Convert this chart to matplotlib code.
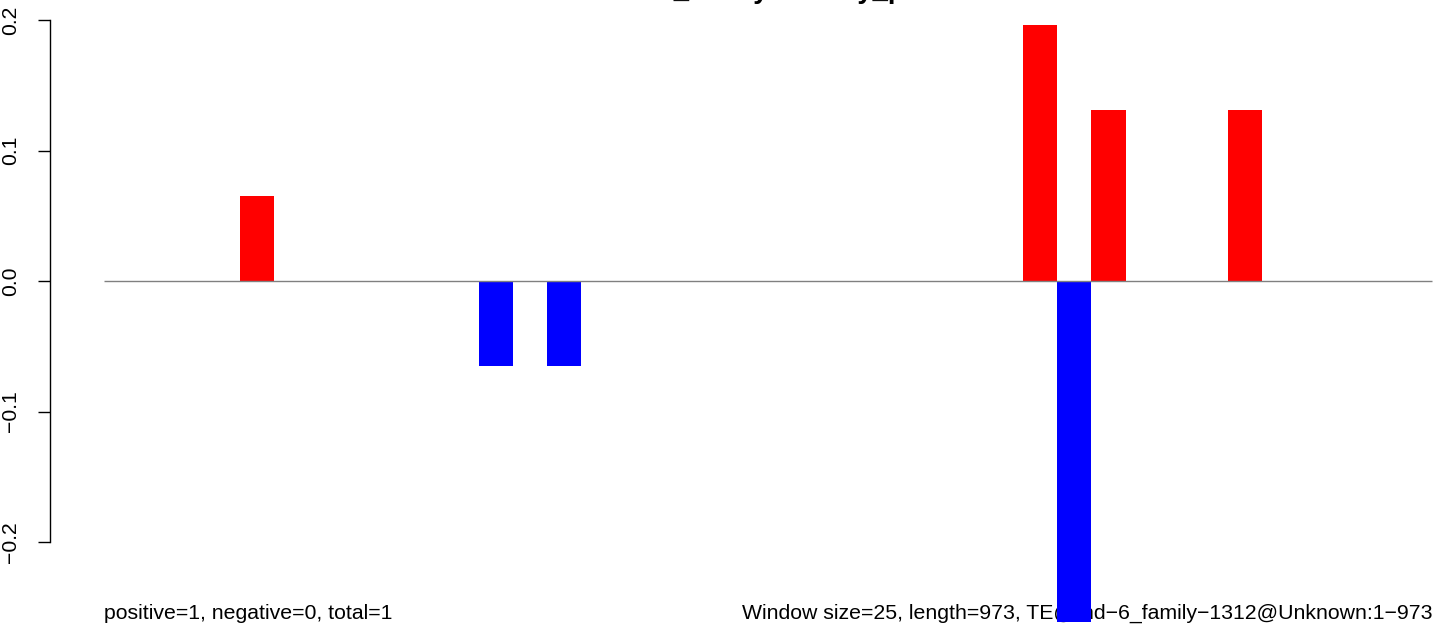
import numpy as np
import matplotlib
matplotlib.use("Agg")
import matplotlib.pyplot as plt

plt.rcParams['font.family'] = ['Liberation Sans', 'DejaVu Sans']

# DATA: one value per 25 bp window (973 bp -> 39 windows)
n_windows = 39
hit_windows = [4, 11, 13, 27, 28, 29, 33]
hit_values = [0.0654, -0.0654, -0.0654, 0.196, -0.261, 0.131, 0.131]
yticks = [-0.2, -0.1, 0.0, 0.1, 0.2]

title = "rnd\u22126_family density_plot"
left_note = "positive=1, negative=0, total=1"
right_note = "Window size=25, length=973, TE@rnd\u22126_family\u22121312@Unknown:1\u2212973"

values = np.zeros(n_windows)
values[hit_windows] = hit_values
x = np.arange(n_windows)
colors = ['red' if v > 0 else 'blue' for v in values]

# FIGURE
W, H = 1444, 644
fig = plt.figure(figsize=(W / 100, H / 100), dpi=100)
ax = fig.add_axes([0, 0, 1, 1])
ax.patch.set_alpha(0)

px = 1328 / 39.0   # pixels per window
x0 = 104           # pixel of window 0
ax.set_xlim(-x0 / px, n_windows + (W - 1432) / px)
ypx = 1305.0       # pixels per unit
ax.set_ylim(-(H - 281) / ypx, 281 / ypx)

ax.bar(x, values, width=1.0, align='edge', color=colors, linewidth=0, zorder=2)
ax.hlines(0, 0, n_windows, color='gray', lw=1.0, zorder=3)

# y axis like R
for s in ['top', 'right', 'bottom']:
    ax.spines[s].set_visible(False)
ax.spines['left'].set_position(('axes', 50 / W))
ax.spines['left'].set_bounds(-0.2, 0.2)
ax.spines['left'].set_linewidth(1.0)
ax.set_xticks([])
ax.set_yticks(yticks)
ax.tick_params(axis='y', length=8.6, width=1.0, pad=13, labelsize=15.2)
for lab in ax.get_yticklabels():
    lab.set_rotation(90)
    lab.set_verticalalignment('center')

# texts (drawn beneath the bars)
ax.text(768 / W, 1 + 2.5 / H, title, transform=fig.transFigure, ha='center',
        va='baseline', fontsize=19.8, fontweight='bold', zorder=1, clip_on=False)
ax.text(x0 / W, (H - 619) / H, left_note, transform=fig.transFigure,
        ha='left', va='baseline', fontsize=15.3, zorder=1)
ax.text(1432 / W, (H - 619) / H, right_note, transform=fig.transFigure,
        ha='right', va='baseline', fontsize=15.3, zorder=1)

fig.savefig("out.png", dpi=100)
